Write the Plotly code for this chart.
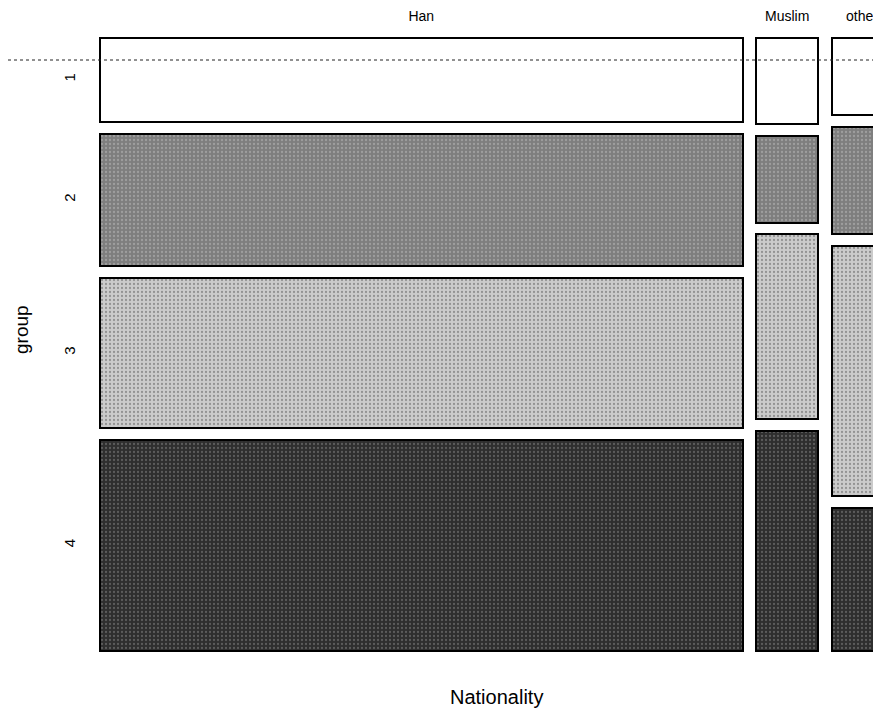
import plotly.graph_objects as go

# ---- data ----
nationalities = ["Han", "Muslim", "other"]
groups = ["1", "2", "3", "4"]
group1 = [151, 15, 13]
group2 = [237, 15, 18]
group3 = [269, 32, 42]
group4 = [378, 38, 24]
group_counts = [group1, group2, group3, group4]
group_colors = ["#ffffff", "#7e7e7e", "#cbcbcb", "#2e2e2e"]
speckle_colors = ["#ffffff", "#bdbdbd", "#5a5a5a", "#8a8a8a"]

# ---- mosaic layout ----
gap_x = 22.0      # gap between columns (count units)
gap_y = 0.0202    # gap between tiles (proportion units)

col_totals = [sum(gc[j] for gc in group_counts) for j in range(len(nationalities))]
col_left = []
pos = 0.0
for t in col_totals:
    col_left.append(pos)
    pos += t + gap_x
col_center = [l + t / 2 for l, t in zip(col_left, col_totals)]

bases = [[0.0] * len(nationalities) for _ in groups]
heights = [[0.0] * len(nationalities) for _ in groups]
for j in range(len(nationalities)):
    y = 0.0
    for i in range(len(groups)):
        h = group_counts[i][j] / col_totals[j]
        bases[i][j] = y
        heights[i][j] = h
        y += h + gap_y

fig = go.Figure()
for i, g in enumerate(groups):
    pattern = None
    if i > 0:
        pattern = dict(shape=".", fgcolor=speckle_colors[i], size=4,
                       solidity=0.25, fillmode="overlay")
    fig.add_trace(go.Bar(
        x=col_center, y=heights[i], base=bases[i], width=col_totals,
        marker=dict(color=group_colors[i], line=dict(color="black", width=2),
                    pattern=pattern),
        name=g, showlegend=False, hoverinfo="skip",
    ))

han_centers = [bases[i][0] + heights[i][0] / 2 for i in range(len(groups))]

# page has an 8px body margin: figure coordinates = page coordinates - 8
W, H = 873, 703
px_per_unit_x = 642.5 / col_totals[0]
ml = 84
plot_w = W - ml
x0 = -(92 - ml) / px_per_unit_x
x1 = x0 + plot_w / px_per_unit_x

px_per_unit_y = 578.4
mt, mb = 22, 51
plot_h = H - mt - mb
ytop = -(29.5 - mt) / px_per_unit_y
ybot = ytop + plot_h / px_per_unit_y

font = "Liberation Sans, Arial, sans-serif"

fig.update_layout(
    template="none",
    width=W, height=H,
    margin=dict(l=ml, r=0, t=mt, b=mb, autoexpand=False),
    paper_bgcolor="white", plot_bgcolor="white",
    barmode="overlay", bargap=0,
    font=dict(family=font, color="black"),
    xaxis=dict(range=[x0, x1], side="top", tickmode="array",
               tickvals=col_center, ticktext=nationalities,
               showgrid=False, zeroline=False, showline=False, ticks="",
               automargin=False,
               tickfont=dict(size=14, family=font), ticklabelstandoff=5),
    yaxis=dict(range=[ybot, ytop], tickmode="array",
               tickvals=han_centers, ticktext=groups, tickangle=-90,
               showgrid=False, zeroline=False, showline=False, ticks="",
               automargin=False,
               tickfont=dict(size=15, family=font), ticklabelstandoff=13),
    annotations=[
        dict(text="Nationality", xref="paper", yref="paper",
             x=(489 - ml) / plot_w, y=-(689 - (H - mb)) / plot_h,
             showarrow=False, font=dict(size=20, family=font),
             xanchor="center", yanchor="middle"),
        dict(text="group", xref="paper", yref="paper",
             x=-(ml - 13) / plot_w, y=1 - (322 - mt) / plot_h,
             showarrow=False, textangle=-90, font=dict(size=19, family=font),
             xanchor="center", yanchor="middle"),
    ],
    shapes=[dict(type="line", xref="paper", yref="y",
                 x0=-ml / plot_w, x1=1,
                 y0=(52 - 29.5) / px_per_unit_y, y1=(52 - 29.5) / px_per_unit_y,
                 line=dict(color="#222222", width=1, dash="dot"), layer="above")],
)

fig.write_html("out.html")
